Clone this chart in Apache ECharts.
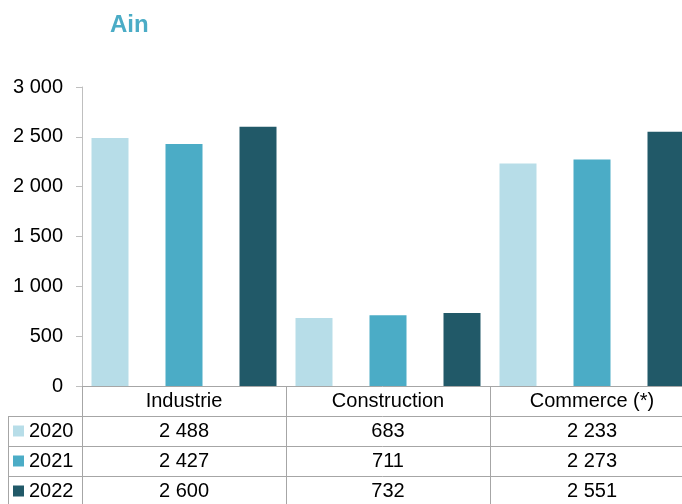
<!DOCTYPE html>
<html>
<head>
<meta charset="utf-8">
<script src="https://cdn.jsdelivr.net/npm/echarts@6/dist/echarts.min.js"></script>
<style>html,body{margin:0;padding:0;background:#fff;}#c{width:682px;height:504px;}</style>
</head>
<body>
<div id="c"></div>
<script>
const categories = ['Industrie', 'Construction', 'Commerce (*)'];
const years = ['2020', '2021', '2022'];
const values2020 = [2488, 683, 2233];
const values2021 = [2427, 711, 2273];
const values2022 = [2600, 732, 2551];
const yTicks = [0, 500, 1000, 1500, 2000, 2500, 3000];
const colors = ['#b7dde8', '#4bacc6', '#215968'];

const seriesValues = [values2020, values2021, values2022];
const fmt = v => String(v).replace(/\B(?=(\d{3})+(?!\d))/g, ' ');
const FONT = 'Liberation Sans, Arial, sans-serif';
const tableLine = '#a6a6a6';

const chart = echarts.init(document.getElementById('c'), null, {renderer: 'canvas'});

const xAxes = [{
  type: 'category', gridIndex: 0, position: 'bottom', offset: 0,
  data: categories,
  axisLine: {show: true, lineStyle: {color: tableLine, width: 1}},
  axisTick: {show: true, length: 30, interval: 0, lineStyle: {color: tableLine}},
  axisLabel: {fontSize: 20, color: '#000', margin: 5, fontFamily: FONT, interval: 0}
}];
seriesValues.forEach((vals, i) => {
  xAxes.push({
    type: 'category', gridIndex: 0, position: 'bottom', offset: 30 * (i + 1),
    data: vals.map(fmt),
    axisLine: {show: true, lineStyle: {color: tableLine, width: 1}},
    axisTick: {show: true, length: 30, interval: 0, lineStyle: {color: tableLine}},
    axisLabel: {fontSize: 20, color: '#000', margin: 5, fontFamily: FONT, interval: 0}
  });
});

chart.setOption({
  animation: false,
  color: colors,
  title: {
    text: 'Ain', left: 105, top: 8,
    textStyle: {color: '#4bacc6', fontSize: 24, fontWeight: 'bold', fontFamily: FONT}
  },
  legend: {
    data: years, orient: 'vertical', left: 13, top: 421,
    icon: 'rect', itemWidth: 11, itemHeight: 11, itemGap: 10,
    padding: 0,
    textStyle: {fontSize: 20, color: '#000', fontFamily: FONT, lineHeight: 20},
    selectedMode: false
  },
  grid: {left: 82, top: 87, width: 612, height: 299, outerBoundsMode: 'none', containLabel: false},
  xAxis: xAxes,
  yAxis: {
    type: 'value', min: yTicks[0], max: yTicks[yTicks.length - 1], interval: 500,
    axisLine: {show: true, lineStyle: {color: '#bfbfbf'}},
    axisTick: {show: true, length: 6, lineStyle: {color: '#bfbfbf'}},
    axisLabel: {fontSize: 20, color: '#000', margin: 19, fontFamily: FONT, formatter: v => fmt(v)},
    splitLine: {show: false}
  },
  series: years.map((y, i) => ({
    name: y, type: 'bar', xAxisIndex: 0, data: seriesValues[i],
    barWidth: 37, barGap: '100%',
    itemStyle: {color: colors[i]}
  })),
  graphic: [
    {type: 'line', shape: {x1: 8, y1: 416.5, x2: 82, y2: 416.5}, style: {stroke: tableLine, lineWidth: 1}},
    {type: 'line', shape: {x1: 8, y1: 446.5, x2: 82, y2: 446.5}, style: {stroke: tableLine, lineWidth: 1}},
    {type: 'line', shape: {x1: 8, y1: 476.5, x2: 82, y2: 476.5}, style: {stroke: tableLine, lineWidth: 1}},
    {type: 'line', shape: {x1: 8.5, y1: 416, x2: 8.5, y2: 504}, style: {stroke: tableLine, lineWidth: 1}}
  ]
});
</script>
</body>
</html>
